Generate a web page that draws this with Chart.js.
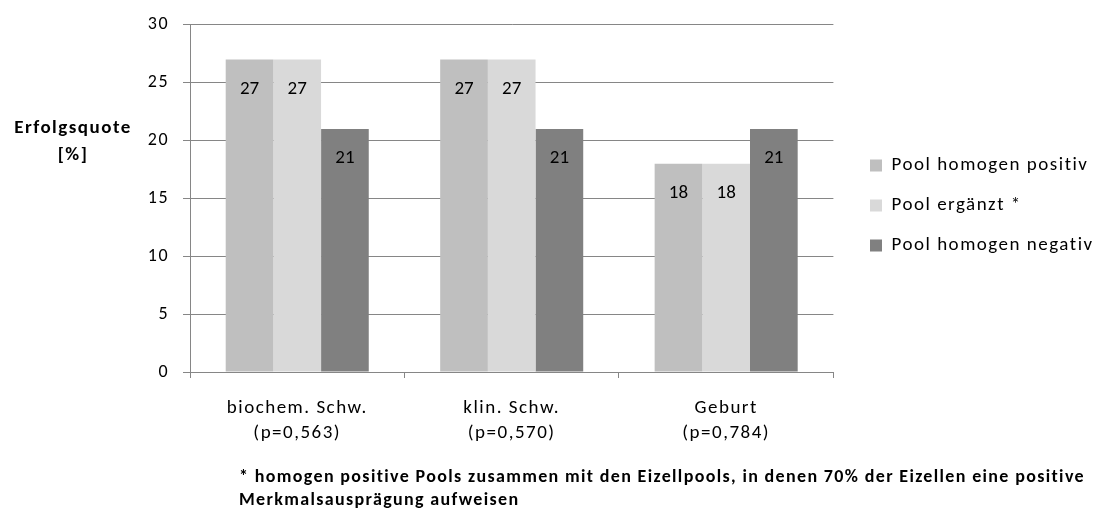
<!DOCTYPE html>
<html>
<head>
<meta charset="utf-8">
<script src="https://cdn.jsdelivr.net/npm/chart.js@4/dist/chart.umd.min.js"></script>
<style>
html,body{margin:0;padding:0;background:#fff;}
#wrap{position:relative;width:1110px;height:515px;}
</style>
</head>
<body>
<div id="wrap"><canvas id="c" width="1110" height="515"></canvas></div>
<script>
const categories = [['biochem. Schw.', '(p=0,563)'], ['klin. Schw.', '(p=0,570)'], ['Geburt', '(p=0,784)']];
const seriesNames = ['Pool homogen positiv', 'Pool ergänzt *', 'Pool homogen negativ'];
const poolPositiv = [27, 27, 18];
const poolErgaenzt = [27, 27, 18];
const poolNegativ = [21, 21, 21];
const yTicks = [0, 5, 10, 15, 20, 25, 30];
const yTitle = ['Erfolgsquote', '[%]'];
const footnote = ['* homogen positive Pools zusammen mit den Eizellpools, in denen 70% der Eizellen eine positive', 'Merkmalsausprägung aufweisen'];

const FONT = 'Carlito, Lato, "Liberation Sans", sans-serif';
const colors = ['#bfbfbf', '#d9d9d9', '#808080'];

const spacing = {
  id: 'spacing',
  beforeUpdate(chart) { chart.ctx.letterSpacing = '1.5px'; },
  beforeDraw(chart) { chart.ctx.letterSpacing = '1.5px'; }
};

const valueLabels = {
  id: 'valueLabels',
  afterDatasetsDraw(chart) {
    const ctx = chart.ctx;
    ctx.save();
    ctx.letterSpacing = '0px';
    ctx.font = '19px ' + FONT;
    ctx.fillStyle = '#000';
    ctx.textAlign = 'center';
    ctx.textBaseline = 'alphabetic';
    chart.data.datasets.forEach((ds, i) => {
      chart.getDatasetMeta(i).data.forEach((bar, j) => {
        ctx.fillText(String(ds.data[j]), bar.x, bar.y + 34);
      });
    });
    ctx.restore();
  }
};

const extraText = {
  id: 'extraText',
  afterDraw(chart) {
    const ctx = chart.ctx;
    ctx.save();
    ctx.fillStyle = '#000';
    ctx.letterSpacing = '1.5px';
    ctx.font = 'bold 19px ' + FONT;
    ctx.textAlign = 'center';
    ctx.textBaseline = 'alphabetic';
    ctx.fillText(yTitle[0], 73, 133);
    ctx.fillText(yTitle[1], 73, 160);
    ctx.letterSpacing = '1.35px';
    ctx.font = 'bold 18px ' + FONT;
    ctx.textAlign = 'left';
    ctx.fillText(footnote[0], 239, 482);
    ctx.fillText(footnote[1], 239, 505);
    ctx.restore();
  }
};

const legendShift = {
  id: 'legendShift',
  afterLayout(chart) {
    const lg = chart.legend;
    if (!lg) return;
    const dx = 870 - (lg.left + lg.options.labels.padding);
    lg.left += dx; lg.right += dx;
    lg.top += 7; lg.bottom += 7;
  }
};

new Chart(document.getElementById('c'), {
  type: 'bar',
  data: {
    labels: categories,
    datasets: [
      { label: seriesNames[0], data: poolPositiv, backgroundColor: colors[0] },
      { label: seriesNames[1], data: poolErgaenzt, backgroundColor: colors[1] },
      { label: seriesNames[2], data: poolNegativ, backgroundColor: colors[2] }
    ]
  },
  options: {
    responsive: false,
    animation: false,
    devicePixelRatio: 1,
    datasets: { bar: { categoryPercentage: 0.667, barPercentage: 1.0, borderWidth: 0 } },
    layout: { padding: { left: 0, top: 22, right: 22, bottom: 0 } },
    plugins: {
      tooltip: { enabled: false },
      legend: {
        position: 'right',
        align: 'center',
        fullSize: false,
        labels: {
          boxWidth: 12,
          boxHeight: 12,
          padding: 21,
          color: '#000',
          font: { family: FONT, size: 19 }
        }
      }
    },
    scales: {
      x: {
        grid: { display: true, drawOnChartArea: false, drawTicks: true, tickLength: 6, color: '#868686', offset: true },
        border: { color: '#868686', width: 1 },
        ticks: { color: '#000', font: { family: FONT, size: 19, lineHeight: '25px' }, padding: 17.5, maxRotation: 0 },
        afterFit(scale) { scale.height = 143; }
      },
      y: {
        min: 0, max: 30,
        afterBuildTicks(scale) { scale.ticks = yTicks.map(v => ({ value: v })); },
        grid: { color: '#868686', tickLength: 7, lineWidth: 1 },
        border: { color: '#868686', width: 1 },
        ticks: { color: '#000', font: { family: FONT, size: 18 }, padding: 14 },
        afterFit(scale) { scale.width = 190; }
      }
    }
  },
  plugins: [spacing, valueLabels, extraText, legendShift]
});
</script>
</body>
</html>
